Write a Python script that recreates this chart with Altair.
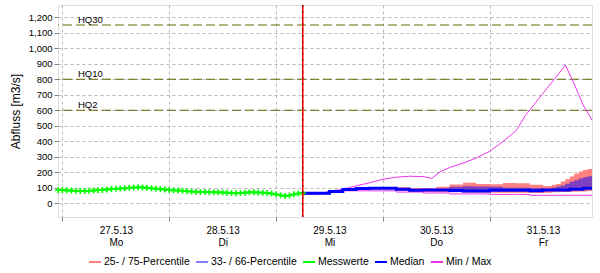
import json
import altair as alt
import pandas as pd

# ---------------- data (hours counted from 27.5.13 00:00) ----------------
day_dates = ["27.5.13", "28.5.13", "29.5.13", "30.5.13", "31.5.13"]
day_names = ["Mo", "Di", "Mi", "Do", "Fr"]

obs_hours = list(range(-1, 55))
obs_values = [84, 85, 83, 82, 80, 79, 79, 80, 82, 84, 86, 89, 91, 93, 95, 96,
              99, 101, 103, 102, 99, 96, 94, 91, 88, 85, 83, 82, 80, 77, 75, 74,
              73, 72, 71, 71, 70, 69, 68, 66, 65, 66, 68, 70, 70, 69, 68, 66,
              62, 57, 51, 47, 50, 57, 62, 65]

fc_hours = [54, 57, 60, 63, 66, 69, 72, 75, 78, 81, 84, 87, 90, 93, 96, 99,
            102, 105, 108, 111, 114, 117, 119]
median = [65, 65, 75, 88, 95, 97, 97, 90, 84, 86, 86, 82, 78, 78, 84, 84,
          84, 80, 86, 86, 90, 96, 96]
min_values = [60, 60, 80, 80, 80, 80, 80, 72, 72, 66, 66, 60, 60, 60, 57, 57,
              57, 51, 51, 51, 51, 51, 51]

max_hours = [54, 58, 60, 63, 66, 69, 72, 75, 78, 81, 83, 85, 87, 90, 93, 96,
             99, 102, 104, 106, 108, 111, 113, 115, 117, 119]
max_values = [60, 59, 78, 90, 112, 132, 154, 168, 174, 172, 160, 205, 230, 258,
              292, 335, 398, 470, 565, 637, 710, 816, 892, 770, 634, 537]

band_hours = [54, 57, 60, 63, 66, 69, 72, 75, 78, 81, 84, 87, 90, 93, 96, 99,
              102, 105, 108, 110, 111, 112, 113, 114, 115, 116, 117, 118, 119]
p25 = [62, 62, 72, 82, 88, 90, 90, 78, 72, 72, 70, 70, 68, 68, 68, 68,
       68, 66, 68, 70, 70, 72, 72, 74, 74, 76, 76, 78, 78]
p33 = [63, 63, 73, 85, 92, 94, 94, 86, 80, 80, 80, 78, 76, 76, 78, 78,
       78, 76, 80, 80, 82, 84, 86, 88, 88, 90, 90, 92, 92]
p66 = [67, 67, 77, 91, 97, 99, 99, 92, 86, 88, 92, 106, 110, 108, 106, 100,
       100, 98, 94, 100, 108, 115, 125, 138, 148, 160, 167, 174, 177]
p75 = [69, 69, 79, 93, 99, 101, 101, 103, 98, 98, 106, 120, 132, 124, 122, 130,
       128, 119, 111, 119, 124, 140, 155, 172, 190, 205, 214, 220, 222]

hq_names = ["HQ30", "HQ10", "HQ2"]
hq_values = [1150, 800, 600]

legend_names = ["25- / 75-Percentile", "33- / 66-Percentile", "Messwerte",
                "Median", "Min / Max"]
legend_colors = ["#ff8080", "#8080ff", "#00ff00", "#0000ff", "#ee33ee"]

# ---------------- frames ----------------
obs_df = pd.DataFrame({"h": obs_hours, "v": obs_values})
med_df = pd.DataFrame({"h": fc_hours, "v": median, "mn": min_values})
max_df = pd.DataFrame({"h": max_hours, "v": max_values})
band_df = pd.DataFrame({"h": band_hours, "p25": p25, "p33": p33, "p66": p66, "p75": p75})
hq_df = pd.DataFrame({"name": hq_names, "v": hq_values})
vline_df = pd.DataFrame({"h": [fc_hours[0]]})
leg_df = pd.DataFrame({"series": legend_names, "h": [0] * 5, "v": [0] * 5})

FONT = "Arial, 'Liberation Sans', Helvetica, sans-serif"

dates_js = json.dumps(day_dates)
names_js = json.dumps(day_names)
label_expr = (f"datum.value % 24 == 12 ? [{dates_js}[floor(datum.value / 24)], "
              f"{names_js}[floor(datum.value / 24)]] : ''")

x_axis = alt.Axis(
    values=list(range(0, 120, 12)),
    labelExpr=label_expr,
    grid=True,
    gridColor="#b8b8b8",
    gridDash=[3, 3],
    gridOpacity={"condition": {"test": "datum.value % 24 != 0", "value": 0}, "value": 1},
    tickOpacity={"condition": {"test": "datum.value % 24 != 0", "value": 0}, "value": 1},
    tickColor="#808080",
    tickSize=4,
    domain=False,
    title=None,
    labelPadding=4,
    labelFontSize=10,
    labelLineHeight=12,
    labelFont=FONT,
    labelColor="black",
    labelFlush=False,
    labelOverlap=False,
    labelBaseline="top",
)
y_axis = alt.Axis(
    values=list(range(0, 1300, 100)),
    format=",d",
    title="Abfluss [m3/s]",
    titleFont=FONT,
    titleFontSize=12,
    titleFontWeight="normal",
    titleColor="black",
    titlePadding=6,
    grid=True,
    gridColor="#b8b8b8",
    gridDash=[3, 3],
    domain=False,
    tickSize=4,
    tickColor="#808080",
    labelPadding=2,
    labelFontSize=9.5,
    labelFont=FONT,
    labelColor="black",
)

x_scale = alt.Scale(domain=[-1, 119], nice=False, zero=False)
y_scale = alt.Scale(domain=[-89, 1279], nice=False, zero=False)


def X(field="h"):
    return alt.X(f"{field}:Q", scale=x_scale, axis=x_axis)


def Y(field):
    return alt.Y(f"{field}:Q", scale=y_scale, axis=y_axis)


hq_rules = alt.Chart(hq_df).mark_rule(color="#666600", strokeDash=[9, 4], strokeWidth=1.2).encode(
    y=Y("v")
)
hq_text = alt.Chart(hq_df).mark_text(align="left", baseline="alphabetic", dy=-2,
                                     fontSize=9.5, font=FONT, color="black").encode(
    x=alt.value(20), y=Y("v"), text="name:N"
)

band_outer = alt.Chart(band_df).mark_area(interpolate="step-after", color="#ff8080", opacity=1).encode(
    x=X(), y=Y("p25"), y2="p75"
)
band_inner = alt.Chart(band_df).mark_area(interpolate="step-after", color="#0000ff", opacity=0.5).encode(
    x=X(), y=Y("p33"), y2="p66"
)
min_line = alt.Chart(med_df).mark_line(interpolate="step-after", color="#ee33ee", strokeWidth=1).encode(
    x=X(), y=Y("mn")
)
max_line = alt.Chart(max_df).mark_line(color="#ee33ee", strokeWidth=1).encode(
    x=X(), y=Y("v")
)
median_line = alt.Chart(med_df).mark_line(interpolate="step-after", color="#0000ff", strokeWidth=3).encode(
    x=X(), y=Y("v")
)
obs_line = alt.Chart(obs_df).mark_line(color="#00ff00", strokeWidth=2).encode(
    x=X(), y=Y("v")
)
obs_pts = alt.Chart(obs_df).mark_point(shape="M-1,0H1M0,-1V1", filled=False, size=36,
                                       strokeWidth=1.6, color="#00ff00", opacity=1).encode(
    x=X(), y=Y("v")
)
vline = alt.Chart(vline_df).mark_rule(color="#ff0000", strokeWidth=1.6).encode(x=X())
vline_dash = alt.Chart(vline_df).mark_rule(color="#000000", strokeWidth=0.8, strokeDash=[2, 4],
                                           opacity=0.8).encode(x=X())

legend_layer = alt.Chart(leg_df).mark_line().encode(
    x=X(), y=Y("v"),
    color=alt.Color("series:N", sort=legend_names,
                    scale=alt.Scale(domain=legend_names, range=legend_colors),
                    legend=alt.Legend(orient="none", legendX=30, legendY=250,
                                      direction="horizontal", title=None,
                                      symbolType="stroke", symbolSize=144,
                                      symbolStrokeWidth=2, symbolOpacity=1,
                                      labelFontSize=10.5, labelFont=FONT,
                                      labelColor="black", labelOffset=2,
                                      columnPadding=2, padding=0,
                                      gridAlign="none")),
)

chart = alt.layer(
    hq_rules, hq_text, band_outer, band_inner, min_line, max_line, median_line,
    obs_line, obs_pts, vline, vline_dash, legend_layer
).properties(
    width=534, height=212,
    autosize=alt.AutoSizeParams(type="none"),
    padding={"left": 58, "top": 5, "right": 8, "bottom": 56},
    background="white",
).configure_view(
    stroke="#808080", strokeWidth=1.5
).configure(font=FONT)

chart.save("out.html", embed_options={"renderer": "svg", "actions": False})
